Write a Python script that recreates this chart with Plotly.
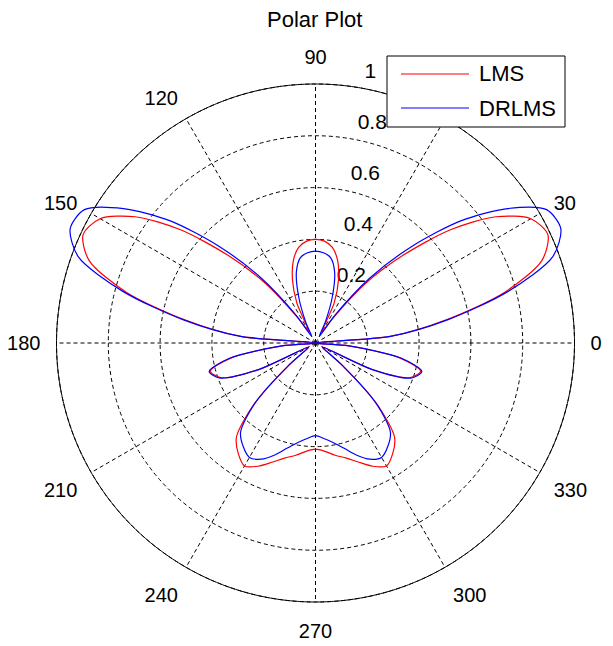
import numpy as np
import plotly.graph_objects as go

# ---------------- data ----------------
theta = list(range(0, 365, 5))

lms = [0.00, 0.29, 0.51, 0.755, 0.93, 0.99, 0.96, 0.85, 0.68, 0.48,
       0.30, 0.12, 0.05, 0.17, 0.26, 0.33, 0.375, 0.395, 0.40, 0.395,
       0.375, 0.33, 0.26, 0.17, 0.05, 0.12, 0.30, 0.48, 0.68, 0.85,
       0.96, 0.99, 0.93, 0.755, 0.51, 0.29, 0.00, 0.13, 0.33, 0.42,
       0.39, 0.24, 0.03, 0.04, 0.14, 0.34, 0.475, 0.52, 0.548, 0.525,
       0.49, 0.46, 0.44, 0.42, 0.41, 0.42, 0.44, 0.46, 0.49, 0.525,
       0.548, 0.52, 0.475, 0.34, 0.14, 0.04, 0.03, 0.24, 0.39, 0.42,
       0.33, 0.13, 0.00]

drlms = [0.00, 0.29, 0.52, 0.77, 0.975, 1.045, 1.03, 0.905, 0.735, 0.53,
         0.33, 0.13, 0.03, 0.09, 0.19, 0.285, 0.335, 0.35, 0.355, 0.35,
         0.335, 0.285, 0.19, 0.09, 0.03, 0.13, 0.33, 0.53, 0.735, 0.905,
         1.03, 1.045, 0.975, 0.77, 0.52, 0.29, 0.00, 0.13, 0.335, 0.425,
         0.395, 0.245, 0.03, 0.04, 0.14, 0.335, 0.45, 0.487, 0.51, 0.495,
         0.46, 0.42, 0.39, 0.37, 0.358, 0.37, 0.39, 0.42, 0.46, 0.495,
         0.51, 0.487, 0.45, 0.335, 0.14, 0.04, 0.03, 0.245, 0.395, 0.425,
         0.335, 0.13, 0.00]

angle_ticks = list(range(0, 360, 30))
angle_labels = [str(a) for a in angle_ticks]
ring_vals = [0.2, 0.4, 0.6, 0.8, 1.0]
ring_labels = ["0.2", "0.4", "0.6", "0.8", "1"]

# ---------------- layout geometry ----------------
# the page body has an 8px margin, so the figure is drawn 8px in
OFF = 8
W, H = 613 - OFF, 646 - OFF
CX, CY = 315.5 - OFF, 343.0 - OFF
R1 = 259.0          # pixels for r = 1
RMAX = 1.06
RPX = R1 * RMAX

FONT = "Liberation Sans, Arial, sans-serif"
FS_TICK = 20
FS_RAD = 21
FS_BIG = 22
DASH = "4px,3px"


def px(x):
    return (x - OFF) / W


def py(y):
    return 1 - (y - OFF) / H


fig = go.Figure()

# dashed spokes (grid)
for a in angle_ticks:
    fig.add_trace(go.Scatterpolar(
        r=[0, ring_vals[-1]], theta=[a, a], mode="lines",
        line=dict(color="black", width=1, dash=DASH),
        hoverinfo="skip", showlegend=False))

# solid outer circle at r = 1
circ = np.linspace(0, 360, 721)
fig.add_trace(go.Scatterpolar(
    r=np.full(circ.shape, ring_vals[-1]), theta=circ, mode="lines",
    line=dict(color="black", width=1), hoverinfo="skip", showlegend=False))

# radial tick labels, MATLAB style (beside the 80 degree spoke)
lab_r, lab_t = [], []
for v in ring_vals:
    yc = R1 * np.sin(np.radians(80)) * v + 17.8      # visual centre, px up
    xl = 12.0 + 0.136 * yc                            # left edge, px right
    ya = yc - 0.608 * FS_RAD                          # anchor for 'top right'
    lab_r.append(np.hypot(xl, ya) / R1)
    lab_t.append(np.degrees(np.arctan2(ya, xl)))
fig.add_trace(go.Scatterpolar(
    r=lab_r, theta=lab_t, mode="text", text=ring_labels,
    textposition="top right", cliponaxis=False,
    textfont=dict(family=FONT, size=FS_RAD, color="black"),
    hoverinfo="skip", showlegend=False))

fig.add_trace(go.Scatterpolar(
    r=lms, theta=theta, mode="lines", name="LMS",
    line=dict(color="#ff0000", width=1.2, shape="spline", smoothing=0.8),
    showlegend=False))
fig.add_trace(go.Scatterpolar(
    r=drlms, theta=theta, mode="lines", name="DRLMS",
    line=dict(color="#0000ff", width=1.2, shape="spline", smoothing=0.8),
    showlegend=False))

fig.update_layout(
    width=W, height=H,
    margin=dict(l=0, r=0, t=0, b=0),
    paper_bgcolor="white",
    font=dict(family=FONT, size=FS_TICK, color="black"),
    polar=dict(
        domain=dict(x=[(CX - RPX) / W, (CX + RPX) / W],
                    y=[(H - CY - RPX) / H, (H - CY + RPX) / H]),
        bgcolor="white",
        radialaxis=dict(range=[0, RMAX], tickmode="array",
                        tickvals=ring_vals, ticktext=ring_labels,
                        showticklabels=False,
                        showline=False, ticks="", angle=80,
                        showgrid=True, gridcolor="black", gridwidth=1,
                        griddash=DASH),
        angularaxis=dict(tickmode="array", tickvals=angle_ticks,
                         ticktext=angle_labels, showgrid=False,
                         showline=False, ticks="",
                         direction="counterclockwise", rotation=0,
                         tickfont=dict(family=FONT, size=FS_TICK,
                                       color="black")),
    ),
)

# title
fig.add_annotation(text="Polar Plot", xref="paper", yref="paper",
                   x=px(314), y=py(19), xanchor="center", yanchor="middle",
                   showarrow=False,
                   font=dict(family=FONT, size=FS_BIG, color="black"))

# manual legend box (MATLAB style)
fig.add_shape(type="rect", xref="paper", yref="paper",
              x0=px(387), x1=px(565), y0=py(56), y1=py(127),
              line=dict(color="black", width=1), fillcolor="white",
              layer="above")
for yy, col, lab in [(74, "#ff0000", "LMS"), (108, "#0000ff", "DRLMS")]:
    fig.add_shape(type="line", xref="paper", yref="paper",
                  x0=px(401), x1=px(469), y0=py(yy), y1=py(yy),
                  line=dict(color=col, width=1.2), layer="above")
    fig.add_annotation(text=lab, xref="paper", yref="paper",
                       x=px(477), y=py(yy), xanchor="left", yanchor="middle",
                       showarrow=False,
                       font=dict(family=FONT, size=FS_BIG, color="black"))

fig.write_html("out.html")
